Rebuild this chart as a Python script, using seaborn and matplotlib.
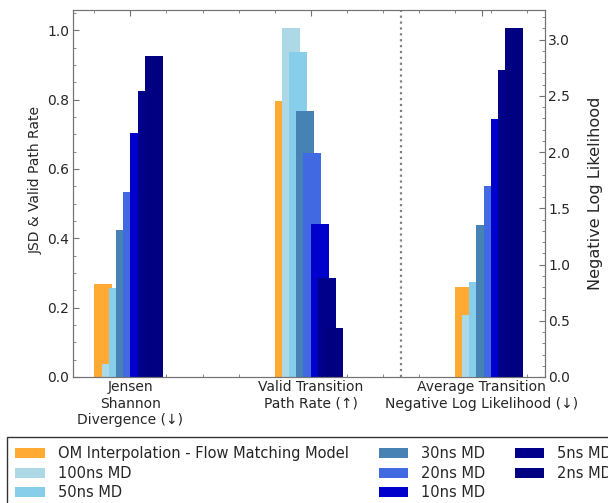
import matplotlib
matplotlib.use("Agg")
import matplotlib.pyplot as plt
from matplotlib.ticker import AutoMinorLocator, MultipleLocator
import seaborn as sns

# series names and colours
series = ["OM Interpolation - Flow Matching Model", "100ns MD", "50ns MD",
          "30ns MD", "20ns MD", "10ns MD", "5ns MD", "2ns MD"]
colors = ["#FFAA33", "lightblue", "skyblue", "steelblue",
          "royalblue", "mediumblue", "darkblue", "navy"]

# values
jsd = [0.267, 0.037, 0.258, 0.425, 0.535, 0.705, 0.826, 0.926]
valid_rate = [0.797, 1.008, 0.936, 0.767, 0.646, 0.442, 0.286, 0.140]
nll = [0.800, 0.549, 0.845, 1.356, 1.703, 2.295, 2.726, 3.108]

group_labels = ["Jensen\nShannon\nDivergence (\u2193)",
                "Valid Transition\nPath Rate (\u2191)",
                "Average Transition\nNegative Log Likelihood (\u2193)"]
group_pos = [0, 1, 2]
label_pos = [0, 1, 1.95]

sns.set_style("ticks")
plt.rcParams["font.family"] = ["DejaVu Sans"]
plt.rcParams["font.size"] = 10

fig = plt.figure(figsize=(6.08, 5.03), dpi=100)
ax = fig.add_axes([0.120, 0.2505, 0.776, 0.7295])
ax2 = ax.twinx()

for j, (name, col) in enumerate(zip(series, colors)):
    off = -0.15 + 0.04 * j
    sns.barplot(x=[group_pos[0] + off, group_pos[1] + off], y=[jsd[j], valid_rate[j]],
                native_scale=True, width=0.1, color=col, saturation=1,
                errorbar=None, linewidth=0, label=name, ax=ax)
    sns.barplot(x=[group_pos[2] + off], y=[nll[j]],
                native_scale=True, width=0.1, color=col, saturation=1,
                errorbar=None, linewidth=0, ax=ax2)

if ax.get_legend() is not None:
    ax.get_legend().remove()
if ax2.get_legend() is not None:
    ax2.get_legend().remove()

ax.axvline(1.5, color="0.5", linestyle=":", linewidth=1.6)

ax.set_xticks(label_pos)
ax.set_xticklabels(group_labels)
ax.xaxis.set_minor_locator(AutoMinorLocator(5))
ax.yaxis.set_major_locator(MultipleLocator(0.2))
ax.yaxis.set_minor_locator(AutoMinorLocator(4))
ax2.yaxis.set_major_locator(MultipleLocator(0.5))
ax2.yaxis.set_minor_locator(AutoMinorLocator(5))

ax.set_ylabel("JSD & Valid Path Rate", fontsize=10)
ax.yaxis.set_label_coords(-0.064, 0.538)
ax2.set_ylabel("Negative Log Likelihood", fontsize=11.6, labelpad=13)
ax.set_xlabel("")
ax2.set_xlabel("")

for a in (ax, ax2):
    for s in a.spines.values():
        s.set_color("0.45")
    a.tick_params(which="both", direction="in", color="0.45", labelsize=10, pad=2.5)
    a.tick_params(which="major", length=4)
    a.tick_params(which="minor", length=2)
ax.tick_params(axis="x", which="both", top=True, bottom=True)
ax.tick_params(axis="y", which="both", left=True, right=False)
ax2.tick_params(axis="y", which="both", left=False, right=True)

handles, labels = ax.get_legend_handles_labels()
fig.legend(handles, labels, loc="upper left", bbox_to_anchor=(0.011, 0.1306),
           ncol=3, fontsize=10.5, frameon=True, fancybox=False, edgecolor="0.2",
           framealpha=1, borderaxespad=0, borderpad=0.6, handlelength=2.0,
           handletextpad=0.9, columnspacing=2.05, labelspacing=0.32)

fig.savefig("out.png", dpi=100)
